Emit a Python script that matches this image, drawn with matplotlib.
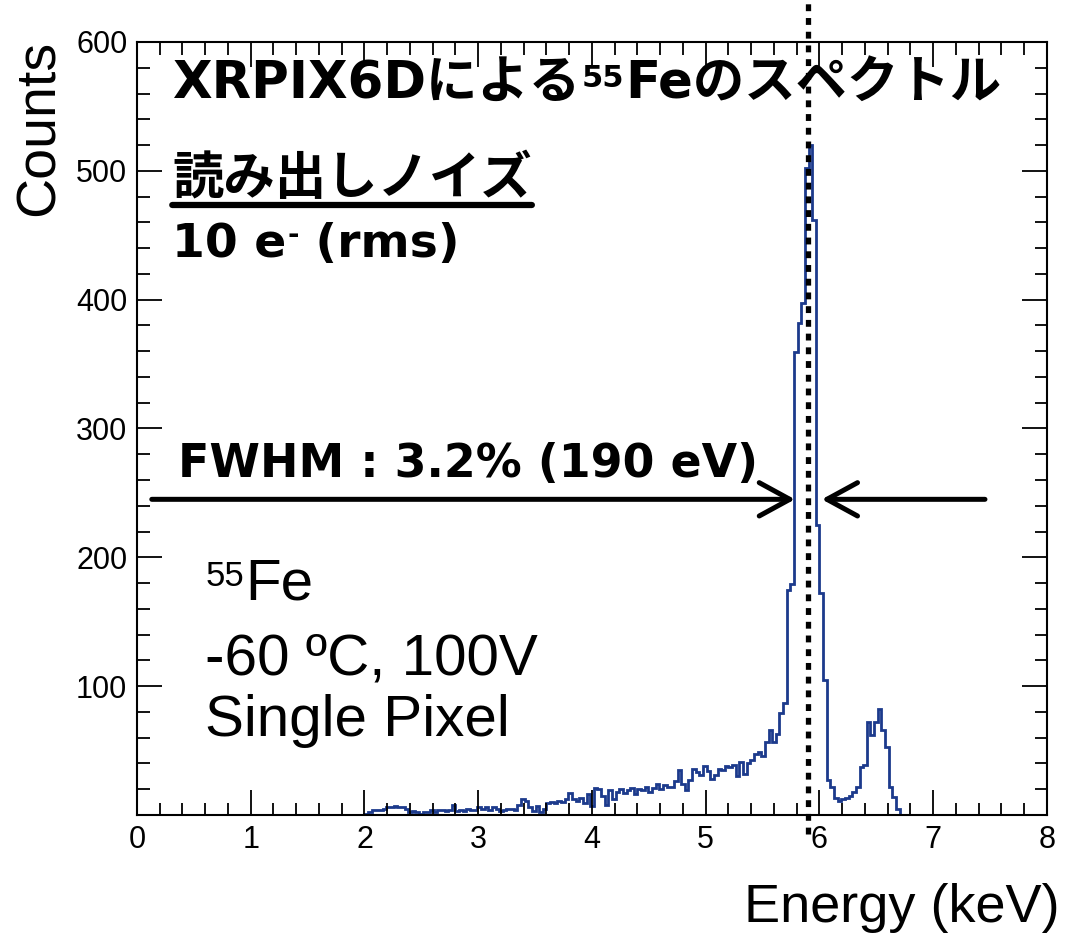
import matplotlib
matplotlib.use('Agg')
import matplotlib.pyplot as plt
import matplotlib.transforms as mtransforms
from matplotlib.ticker import MultipleLocator, FuncFormatter
from matplotlib import font_manager
import numpy as np

# 55Fe spectrum, counts per bin (bins of 0.032 keV starting at 2.0 keV)
bin_start = 2.0
bin_width = 0.032
counts = [
    1, 2, 4, 4, 4, 5, 6, 6, 7, 6,
    6, 5, 2, 3, 2, 1, 2, 2, 4, 2,
    4, 4, 3, 4, 8, 3, 4, 3, 5, 4,
    4, 6, 5, 6, 4, 6, 5, 3, 4, 5,
    5, 4, 8, 12, 11, 6, 3, 7, 2, 5,
    9, 10, 9, 11, 10, 12, 17, 12, 11, 13,
    9, 16, 7, 21, 20, 15, 8, 19, 12, 18,
    20, 17, 19, 21, 16, 20, 19, 22, 18, 21,
    24, 20, 23, 22, 22, 26, 35, 24, 19, 27,
    36, 33, 31, 38, 34, 28, 31, 36, 35, 38,
    37, 39, 30, 41, 32, 40, 43, 47, 49, 46,
    57, 66, 57, 63, 79, 87, 175, 179, 359, 382,
    397, 502, 520, 462, 225, 172, 105, 27, 22, 13,
    11, 12, 13, 15, 18, 22, 37, 39, 72, 62,
    72, 82, 66, 53, 22, 14, 5,
]

peak_energy = 5.9          # dotted line
arrow_level = 245          # counts
left_arrow = (0.13, 5.785)  # tail, tip (keV)
right_arrow = (7.455, 6.02)

line_color = '#1c3a8c'
jp = ['DejaVu Sans', 'Noto Sans CJK JP']
names = {f.name for f in font_manager.fontManager.ttflist}
tick_font = 'Liberation Sans Narrow' if 'Liberation Sans Narrow' in names else 'Liberation Sans'

fig = plt.figure(figsize=(10.89, 9.39), dpi=100)
ax = fig.add_axes([0.1258, 0.1321, 0.8356, 0.8232])

edges = bin_start + bin_width * np.arange(len(counts) + 1)
ax.stairs(counts, edges, color=line_color, lw=2.0)

ax.set_xlim(0, 8)
ax.set_ylim(0, 600)
ax.xaxis.set_major_locator(MultipleLocator(1))
ax.xaxis.set_minor_locator(MultipleLocator(0.2))
ax.yaxis.set_major_locator(MultipleLocator(100))
ax.yaxis.set_minor_locator(MultipleLocator(20))
ax.yaxis.set_major_formatter(FuncFormatter(lambda v, p: '' if v == 0 else f'{v:.0f}'))
ax.tick_params(which='both', direction='in', top=True, right=True, width=1.3)
ax.tick_params(which='major', length=18, pad=7, labelsize=22)
ax.tick_params(which='minor', length=9)
for lab in ax.get_xticklabels() + ax.get_yticklabels():
    lab.set_family(tick_font)
for sp in ax.spines.values():
    sp.set_linewidth(1.5)

# dotted line at the peak, running past the frame
trans = mtransforms.blended_transform_factory(ax.transData, ax.transAxes)
ax.plot([peak_energy, peak_energy], [-0.025, 1.06], transform=trans, clip_on=False,
        color='k', lw=3.8, linestyle=(0, (1.3, 1.3)), solid_capstyle='butt', zorder=5)

# FWHM arrows
astyle = dict(arrowstyle='->,head_length=1.1,head_width=0.6', lw=3.6, color='k',
              mutation_scale=20, shrinkA=0, shrinkB=0)
ax.annotate('', xy=(left_arrow[1], arrow_level), xytext=(left_arrow[0], arrow_level),
            arrowprops=astyle)
ax.annotate('', xy=(right_arrow[1], arrow_level), xytext=(right_arrow[0], arrow_level),
            arrowprops=astyle)

bold = dict(family=jp, fontweight='bold', color='k')

# title line with superscript
t1 = ax.text(0.31, 557, 'XRPIX6Dによる', fontsize=37, va='baseline', **bold)
t2 = ax.annotate('55', xy=(1, 1), xycoords=t1, xytext=(1, -4), textcoords='offset points',
                 fontsize=22, va='top', ha='left', **bold)
ax.annotate('Feのスペクトル', xy=(1, 0), xycoords=(t2, t1), xytext=(1, 0),
            textcoords='offset points', fontsize=37, va='bottom', ha='left', **bold)

# read-out noise
t4 = ax.text(0.31, 482, '読み出しノイズ', fontsize=37, va='baseline', **bold)
ax.annotate('', xy=(1, 0), xycoords=t4, xytext=(0, 0), textcoords=t4,
            arrowprops=dict(arrowstyle='-', lw=4.5, color='k', shrinkA=0, shrinkB=0))
t5 = ax.text(0.31, 433, '10 e', fontsize=34, va='baseline', **bold)
t6 = ax.annotate('-', xy=(1, 1), xycoords=t5, xytext=(0.5, 1), textcoords='offset points',
                 fontsize=20, va='top', ha='left', **bold)
ax.annotate(' (rms)', xy=(1, 0), xycoords=(t6, t5), xytext=(0, 0),
            textcoords='offset points', fontsize=34, va='bottom', ha='left', **bold)

ax.text(0.36, 262, 'FWHM : 3.2% (190 eV)', fontsize=33, va='baseline', **bold)

# measurement conditions
reg = dict(family='Liberation Sans', color='k')
t7 = ax.text(0.6, 198, '55', fontsize=25, va='top', **reg)
ax.annotate('Fe', xy=(1, 167), xycoords=(t7, 'data'), xytext=(1, 0), textcoords='offset points',
            fontsize=42, va='baseline', ha='left', **reg)
ax.text(0.6, 109, '-60 ºC, 100V', fontsize=42, va='baseline', **reg)
ax.text(0.6, 61, 'Single Pixel', fontsize=42, va='baseline', **reg)

fig.text(40 / 1089, 1 - 40 / 939, 'Counts', rotation=90, ha='center', va='top',
         fontsize=40, family='Liberation Sans')
fig.text(1060 / 1089, 1 - 922 / 939, 'Energy (keV)', ha='right', va='baseline',
         fontsize=39, family='Liberation Sans')

fig.savefig('out.png', dpi=100)
